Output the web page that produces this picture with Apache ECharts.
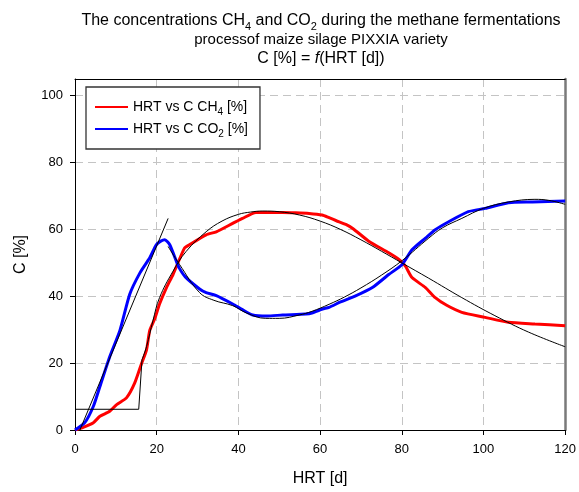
<!DOCTYPE html>
<html>
<head>
<meta charset="utf-8">
<script src="https://cdn.jsdelivr.net/npm/echarts@6/dist/echarts.min.js"></script>
<style>html,body{margin:0;padding:0;background:#fff}#c{width:579px;height:492px}</style>
</head>
<body>
<div id="c"></div>
<script>
const FONT = 'Liberation Sans, Arial, sans-serif';

const xTicks = [0, 20, 40, 60, 80, 100, 120];
const yTicks = [0, 20, 40, 60, 80, 100];

// CH4 measured
const ch4Hrt  = [0, 2, 4.5, 6.1, 8.5, 10.2, 12.6, 14.6, 16.3, 17.5, 18.3, 19.5, 20.7, 22.4, 24, 26.8, 28, 32.1, 34.6, 38.6, 41, 44.3, 47, 50.8, 54, 57.3, 60.5, 62.2, 64, 66.3, 68, 72, 76.8, 79.3, 80.9, 82.5, 85.8, 88.2, 91, 94.7, 100.4, 106.1, 112.6, 120];
const ch4Conc = [0, 0.8, 2.2, 4.1, 5.6, 7.6, 9.6, 14, 19.9, 23.9, 29.8, 33.2, 37.7, 42.6, 46.5, 54.4, 55.4, 58.4, 59.3, 61.8, 63.3, 65.1, 65.1, 65.1, 65, 64.8, 64.3, 63.5, 62.6, 61.5, 60.3, 56.4, 53, 51, 49, 45.6, 42.6, 39.6, 37.3, 35.2, 33.7, 32.2, 31.7, 31.2];

// CO2 measured
const co2Hrt  = [0, 2.4, 4.5, 6.1, 8.5, 11, 13.4, 15.9, 18.3, 19.9, 21, 22, 23.2, 24.8, 25.5, 27, 30.5, 32.1, 34.6, 38.6, 41, 43.5, 47, 50.8, 56.5, 58, 60.6, 62.2, 65, 68.7, 72.8, 76.8, 80.1, 82.5, 85.8, 88.2, 91.5, 96.3, 100.4, 106.1, 112, 120];
const co2Conc = [0, 2.2, 7.1, 13, 21.9, 29.8, 40.6, 47, 51.5, 55.4, 56.5, 56.9, 55.4, 50.5, 48.5, 45.8, 42.2, 41.1, 40.2, 37.7, 36, 34.4, 34.1, 34.4, 34.7, 35, 36.2, 36.7, 38.3, 40.1, 42.6, 46.5, 49.5, 53.9, 57.4, 59.9, 62.3, 65.3, 66.3, 68, 68.2, 68.5];

// fitted curves (black)
const ch4StepHrt  = [0, 15.6, 16.4];
const ch4StepConc = [6.2, 6.2, 21];
const ch4CurveHrt  = [16.4, 17.5, 19.1, 20.7, 24, 27.2, 32.1, 36, 40, 43, 46, 50, 55, 60, 65, 70, 75, 80, 86.6, 94.7, 102.8, 111, 120];
const ch4CurveConc = [21, 24.9, 32.8, 39.6, 47.5, 53.4, 59.3, 62.5, 64.5, 65.2, 65.5, 65.3, 64.3, 62.5, 60, 56.9, 53.5, 50, 45.4, 39.6, 34.2, 29.3, 24.9];
const co2LinHrt  = [1.2, 22.8];
const co2LinConc = [0, 63.3];
const co2CurveHrt  = [22.8, 25.6, 30.5, 34, 38.6, 42, 46.7, 50, 54.9, 58, 62.2, 66, 70, 75, 80.1, 86.6, 90, 94.7, 100, 106.1, 112.6, 116, 120];
const co2CurveConc = [54.9, 49.5, 41.1, 38.8, 37.2, 35, 33.4, 33.4, 34.4, 35.5, 37.6, 39.8, 42.5, 46.3, 50.7, 57.4, 60.5, 63.3, 66.3, 68.2, 69, 68.7, 67.5];

const seriesNames = ['HRT vs C CH4 [%]', 'HRT vs C CO2 [%]'];

function zip(a, b) { return a.map((v, i) => [v, b[i]]); }
function subRich(s) {
  return s.replace(/(CH|CO)(\d)/g, '$1{s|$2}');
}

const chart = echarts.init(document.getElementById('c'), null, {renderer: 'canvas'});

const subStyle = {fontSize: 10, fontFamily: FONT, color: '#000', verticalAlign: 'bottom', lineHeight: 10};
const subStyleBig = {fontSize: 11, fontFamily: FONT, color: '#000', verticalAlign: 'bottom', lineHeight: 11};

function titleText(txt, y, size, rich) {
  return {
    type: 'text', x: 321, y: y, z: 100,
    style: {
      text: txt, fontSize: size, fontFamily: FONT, fill: '#000',
      align: 'center', verticalAlign: 'middle', lineHeight: size + 7, rich: rich
    }
  };
}

const hiddenAxisParts = {axisTick: {show: false}, axisLabel: {show: false}, splitLine: {show: false}};

const option = {
  animation: false,
  backgroundColor: '#fff',
  textStyle: {fontFamily: FONT},
  grid: {left: 75, right: 12, top: 79, bottom: 58, containLabel: false},
  graphic: [
    titleText('The concentrations ' + subRich('CH4') + ' and ' + subRich('CO2') + ' during the methane fermentations', 20.5, 16, {s: subStyleBig}),
    titleText('processof maize silage PIXXIA variety', 40, 15, {}),
    titleText('C [%] = {i|f}(HRT [d])', 58.5, 16, {i: {fontSize: 16, fontFamily: FONT, fontStyle: 'italic', color: '#000', lineHeight: 23}})
  ],
  legend: {
    data: seriesNames,
    orient: 'vertical',
    left: 86, top: 87,
    padding: [10, 12, 10, 9],
    itemGap: 2,
    itemWidth: 33, itemHeight: 2,
    icon: 'rect',
    backgroundColor: '#fff',
    borderColor: '#333', borderWidth: 1.3,
    formatter: n => subRich(n),
    textStyle: {fontSize: 14, fontFamily: FONT, color: '#000', lineHeight: 20, rich: {s: subStyle}}
  },
  xAxis: [{
    type: 'value', min: 0, max: 120, interval: 20, position: 'bottom',
    name: 'HRT [d]', nameLocation: 'middle', nameGap: 41,
    nameTextStyle: {fontSize: 16, fontFamily: FONT, color: '#000'},
    axisLine: {show: true, lineStyle: {color: '#000', width: 1}},
    axisTick: {show: true, inside: false, length: 5, lineStyle: {color: '#000'}},
    axisLabel: {fontSize: 13, fontFamily: FONT, color: '#000', margin: 13,
      formatter: v => xTicks.indexOf(v) >= 0 ? String(v) : ''},
    splitLine: {show: true, lineStyle: {color: '#c4c4c4', width: 1, type: [8, 5]}}
  }, {
    type: 'value', min: 0, max: 120, position: 'top',
    axisLine: {show: true, onZero: false, lineStyle: {color: '#000', width: 1}},
    ...hiddenAxisParts
  }],
  yAxis: [{
    type: 'value', min: 0, max: 105, interval: 20, position: 'left',
    name: 'C [%]', nameLocation: 'middle', nameGap: 46, nameRotate: 90,
    nameTextStyle: {fontSize: 16, fontFamily: FONT, color: '#000'},
    axisLine: {show: true, lineStyle: {color: '#000', width: 1}},
    axisTick: {show: true, inside: false, length: 5, lineStyle: {color: '#000'}, customValues: yTicks},
    axisLabel: {fontSize: 13, fontFamily: FONT, color: '#000', margin: 12,
      formatter: v => yTicks.indexOf(v) >= 0 ? String(v) : ''},
    splitLine: {show: true, lineStyle: {color: '#c4c4c4', width: 1, type: [8, 5]}}
  }, {
    type: 'value', min: 0, max: 105, position: 'right',
    axisLine: {show: true, onZero: false, lineStyle: {color: '#7a7a7a', width: 2.5}},
    ...hiddenAxisParts
  }],
  series: [
    {name: seriesNames[0], type: 'line', data: zip(ch4Hrt, ch4Conc), symbol: 'none', smooth: 0.2,
      lineStyle: {color: '#ff0000', width: 3}, itemStyle: {color: '#ff0000'}, z: 3},
    {name: seriesNames[1], type: 'line', data: zip(co2Hrt, co2Conc), symbol: 'none', smooth: 0.2,
      lineStyle: {color: '#0000ff', width: 3}, itemStyle: {color: '#0000ff'}, z: 3},
    {name: 'CH4 fit step', type: 'line', data: zip(ch4StepHrt, ch4StepConc), symbol: 'none',
      lineStyle: {color: '#000', width: 1}, z: 4},
    {name: 'CH4 fit', type: 'line', data: zip(ch4CurveHrt, ch4CurveConc), symbol: 'none', smooth: 0.4,
      lineStyle: {color: '#000', width: 1}, z: 4},
    {name: 'CO2 fit linear', type: 'line', data: zip(co2LinHrt, co2LinConc), symbol: 'none',
      lineStyle: {color: '#000', width: 1}, z: 4},
    {name: 'CO2 fit', type: 'line', data: zip(co2CurveHrt, co2CurveConc), symbol: 'none', smooth: 0.4,
      lineStyle: {color: '#000', width: 1}, z: 4}
  ]
};
chart.setOption(option);
</script>
</body>
</html>
